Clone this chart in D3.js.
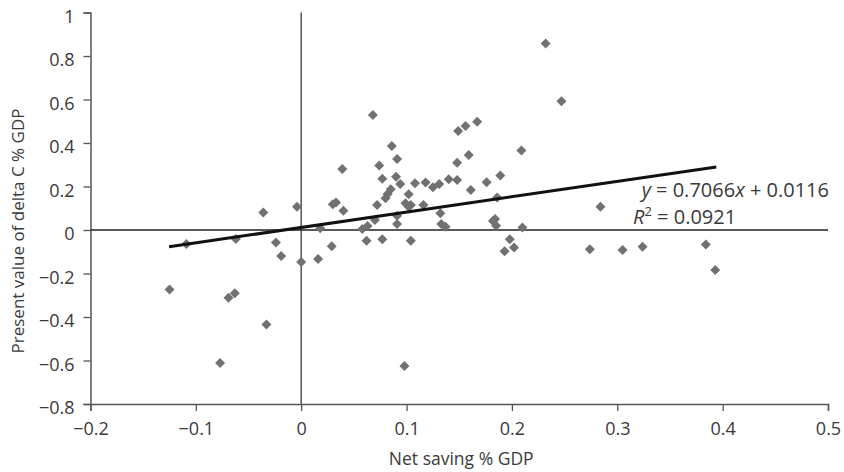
<!DOCTYPE html>
<html><head><meta charset="utf-8">
<script src="https://cdn.jsdelivr.net/npm/d3@7"></script>
<style>
html,body{margin:0;padding:0;background:#fff;}
svg text{font-family:"Open Sans",sans-serif;font-weight:400;fill:#3a3a3a;}
</style></head>
<body><svg id="c" width="844" height="472"></svg>
<script>
const netSaving = [-0.125,-0.109,-0.077,-0.069,-0.063,-0.062,-0.036,-0.033,-0.024,-0.019,-0.004,0.000,0.016,0.018,0.029,0.030,0.033,0.039,0.040,0.058,0.062,0.063,0.068,0.070,0.072,0.074,0.077,0.077,0.080,0.082,0.085,0.086,0.090,0.091,0.091,0.091,0.094,0.098,0.099,0.102,0.102,0.104,0.104,0.108,0.116,0.118,0.125,0.131,0.132,0.133,0.137,0.140,0.148,0.148,0.149,0.156,0.159,0.161,0.167,0.176,0.182,0.184,0.185,0.186,0.189,0.193,0.198,0.202,0.209,0.210,0.232,0.247,0.274,0.284,0.305,0.324,0.384,0.393];
const deltaC = [-0.273,-0.064,-0.611,-0.311,-0.291,-0.041,0.080,-0.434,-0.058,-0.120,0.107,-0.147,-0.133,0.008,-0.075,0.118,0.126,0.280,0.089,0.005,-0.049,0.018,0.529,0.046,0.115,0.296,0.236,-0.043,0.146,0.166,0.187,0.386,0.245,0.326,0.066,0.028,0.211,-0.625,0.123,0.107,0.164,0.115,-0.049,0.215,0.115,0.218,0.196,0.211,0.077,0.028,0.015,0.233,0.230,0.309,0.455,0.478,0.345,0.184,0.498,0.219,0.041,0.051,0.020,0.149,0.250,-0.098,-0.043,-0.080,0.365,0.012,0.858,0.592,-0.089,0.107,-0.092,-0.077,-0.067,-0.184];
const trendSlope = 0.7066, trendIntercept = 0.0116, rSquared = 0.0921;
const trendRange = [-0.1254, 0.394];
const xTicks = [-0.2,-0.1,0,0.1,0.2,0.3,0.4,0.5];
const yTicks = [-0.8,-0.6,-0.4,-0.2,0,0.2,0.4,0.6,0.8,1];
const xTitle = "Net saving % GDP";
const yTitle = "Present value of delta C % GDP";

const svg = d3.select("#c");
const L = 90.5, R = 828, T = 12.5, B = 404;
const x = d3.scaleLinear().domain([-0.2,0.5]).range([L,R]);
const y = d3.scaleLinear().domain([-0.8,1]).range([B,T]);
const fmt = v => v === 0 ? "0" : (v < 0 ? "\u2212" + String(Math.abs(+v.toFixed(1))) : String(+v.toFixed(1)));
const axisColor = "#555";
const fs = 18;

// y axis
const ya = svg.append("g").attr("transform",`translate(${L},0)`)
  .call(d3.axisLeft(y).tickValues(yTicks).tickSize(7).tickPadding(9).tickFormat(fmt));
ya.select(".domain").attr("stroke",axisColor).attr("stroke-width",1.5);
ya.selectAll(".tick line").attr("stroke",axisColor).attr("stroke-width",1.3);
ya.selectAll(".tick text").attr("font-size",fs).attr("dy","0.55em");

// x axis
const xa = svg.append("g").attr("transform",`translate(0,${B})`)
  .call(d3.axisBottom(x).tickValues(xTicks).tickSize(7).tickPadding(11).tickFormat(fmt));
xa.select(".domain").attr("stroke",axisColor).attr("stroke-width",1.5);
xa.selectAll(".tick line").attr("stroke",axisColor).attr("stroke-width",1.3);
xa.selectAll(".tick text").attr("font-size",fs).attr("dy","0.71em");
svg.selectAll(".domain").attr("fill","none");
svg.selectAll("g").attr("font-family",null).attr("font-size",null);

// zero lines
svg.append("line").attr("x1",x(0)).attr("x2",x(0)).attr("y1",T).attr("y2",B)
  .attr("stroke","#555").attr("stroke-width",1.5);
svg.append("line").attr("x1",L).attr("x2",R).attr("y1",y(0)).attr("y2",y(0))
  .attr("stroke","#222").attr("stroke-width",1.3);

// points
const pts = netSaving.map((v,i)=>({x:v,y:deltaC[i]}));
svg.append("g").selectAll("path").data(pts).join("path")
  .attr("d", d3.symbol().type(d3.symbolSquare).size(50))
  .attr("transform", d=>`translate(${x(d.x)},${y(d.y)}) rotate(45)`)
  .attr("fill","#717171");

// trend line
svg.append("line")
  .attr("x1",x(trendRange[0])).attr("y1",y(trendSlope*trendRange[0]+trendIntercept))
  .attr("x2",x(trendRange[1])).attr("y2",y(trendSlope*trendRange[1]+trendIntercept))
  .attr("stroke","#111").attr("stroke-width",3);

// equation
const eq = svg.append("text").attr("x",829).attr("y",197).attr("text-anchor","end").attr("font-size",20);
eq.append("tspan").attr("font-style","italic").text("y");
eq.append("tspan").text(" = " + trendSlope.toFixed(4));
eq.append("tspan").attr("font-style","italic").text("x");
eq.append("tspan").text(" + " + trendIntercept.toFixed(4));
const r2 = svg.append("text").attr("x",633).attr("y",224).attr("font-size",20);
r2.append("tspan").attr("font-style","italic").text("R");
r2.append("tspan").attr("font-size",13).attr("dy",-8).text("2");
r2.append("tspan").attr("dy",8).text(" = " + rSquared.toFixed(4));

// titles
svg.append("text").attr("x",(L+R)/2+2).attr("y",465).attr("text-anchor","middle").attr("font-size",17.5).text(xTitle);
svg.append("text").attr("transform","translate(23.5,231) rotate(-90)").attr("text-anchor","middle").attr("font-size",17).text(yTitle);
</script></body></html>
